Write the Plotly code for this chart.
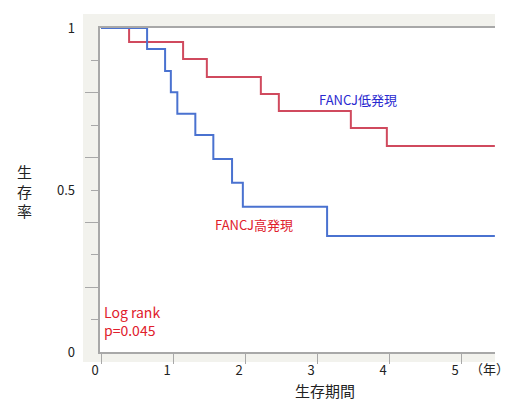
import plotly.graph_objects as go

# Kaplan-Meier step data (time in years, survival)
red_t = [0, 0.39, 1.14, 1.47, 2.22, 2.47, 3.47, 3.97, 5.47]
red_s = [1.0, 0.957, 0.904, 0.849, 0.796, 0.744, 0.691, 0.636, 0.636]
blue_t = [0, 0.64, 0.89, 0.97, 1.06, 1.31, 1.56, 1.82, 1.97, 3.14, 5.47]
blue_s = [1.0, 0.935, 0.867, 0.802, 0.735, 0.670, 0.596, 0.522, 0.448, 0.358, 0.358]

x_ticks = [0, 1, 2, 3, 4, 5]
x_tick_text = ["0", "1", "2", "3", "4", "5"]
y_label_vals = [0, 0.5, 1]
y_label_text = ["0", "0.5", "1"]

FONT = "Noto Sans CJK JP"
RED = "#d04a5e"
BLUE = "#4a72d0"
AXIS = "#a8a8a8"
BAND = "#f2f2ed"
XR = [-0.014, 5.472]

fig = go.Figure()
fig.add_trace(go.Scatter(x=red_t, y=red_s, mode="lines", line=dict(color=RED, width=2, shape="hv"),
                         showlegend=False, hoverinfo="skip"))
fig.add_trace(go.Scatter(x=blue_t, y=blue_s, mode="lines", line=dict(color=BLUE, width=2, shape="hv"),
                         showlegend=False, hoverinfo="skip"))
# invisible trace for label axes
fig.add_trace(go.Scatter(x=[None], y=[None], xaxis="x2", yaxis="y2", showlegend=False))

# background bands outside plot area
fig.add_shape(type="rect", xref="paper", yref="paper", x0=-0.043, x1=0, y0=-0.031, y1=1.043,
              fillcolor=BAND, line_width=0, layer="below")
fig.add_shape(type="rect", xref="paper", yref="paper", x0=0, x1=1, y0=1, y1=1.043,
              fillcolor=BAND, line_width=0, layer="below")
fig.add_shape(type="rect", xref="paper", yref="paper", x0=0, x1=1, y0=-0.031, y1=0,
              fillcolor=BAND, line_width=0, layer="below")

fig.update_layout(
    width=511, height=401,
    margin=dict(l=100, r=16, t=28, b=49),
    paper_bgcolor="white", plot_bgcolor="white",
    font=dict(family=FONT, size=13, color="#222"),
    xaxis=dict(range=XR, tickvals=x_ticks, ticks="outside", ticklen=10, tickwidth=1,
               tickcolor=AXIS, showline=True, linecolor=AXIS, linewidth=1.5, mirror=True,
               showgrid=False, zeroline=False, showticklabels=False),
    xaxis2=dict(range=XR, overlaying="x", side="bottom", anchor="y2", tickvals=x_ticks,
                ticktext=x_tick_text, ticks="", showline=False, showgrid=False, zeroline=False,
                ticklabelshift=-6, ticklabelstandoff=9, tickfont=dict(size=13, color="#222")),
    yaxis=dict(range=[0, 1], tickvals=[0.2, 0.4, 0.6, 0.8], ticks="outside", ticklen=13,
               tickcolor=AXIS, showticklabels=False, showline=True, linecolor=AXIS, linewidth=2,
               showgrid=False, zeroline=False,
               minor=dict(tickvals=[0.1, 0.3, 0.5, 0.7, 0.9], ticks="outside", ticklen=7, tickcolor=AXIS)),
    yaxis2=dict(range=[0, 1], overlaying="y", side="left", anchor="x2", tickvals=y_label_vals,
                ticktext=y_label_text, ticks="", showline=False, showgrid=False, zeroline=False,
                ticklabelstandoff=24, tickfont=dict(size=13, color="#222")),
)

fig.add_annotation(x=3.0, y=0.778, xref="x", yref="y", text="FANCJ低発現", showarrow=False,
                   xanchor="left", yanchor="middle", font=dict(color="#2a2ad0", size=13, family=FONT))
fig.add_annotation(x=1.56, y=0.395, xref="x", yref="y", text="FANCJ高発現", showarrow=False,
                   xanchor="left", yanchor="middle", font=dict(color="#e0202c", size=13, family=FONT))
fig.add_annotation(x=0.01, y=0.096, xref="x", yref="y", text="Log rank<br>p=0.045", showarrow=False,
                   xanchor="left", yanchor="middle", align="left", font=dict(color="#e0202c", size=14, family=FONT))
fig.add_annotation(x=0.987, y=-0.052, xref="paper", yref="paper", text="（年）", showarrow=False,
                   xanchor="center", yanchor="middle", font=dict(size=13, family=FONT, color="#222"))
fig.add_annotation(x=0.57, y=-0.118, xref="paper", yref="paper", text="生存期間", showarrow=False,
                   xanchor="center", yanchor="middle", borderpad=0,
                   font=dict(size=15, family=FONT, color="#222"))
fig.add_annotation(x=-0.19, y=0.497, xref="paper", yref="paper", text="生<br>存<br>率", showarrow=False,
                   xanchor="center", yanchor="middle", font=dict(size=15, family=FONT, color="#222"))

fig.write_html("out.html", config={"displayModeBar": False},
               post_script="document.body.style.margin='0';")
